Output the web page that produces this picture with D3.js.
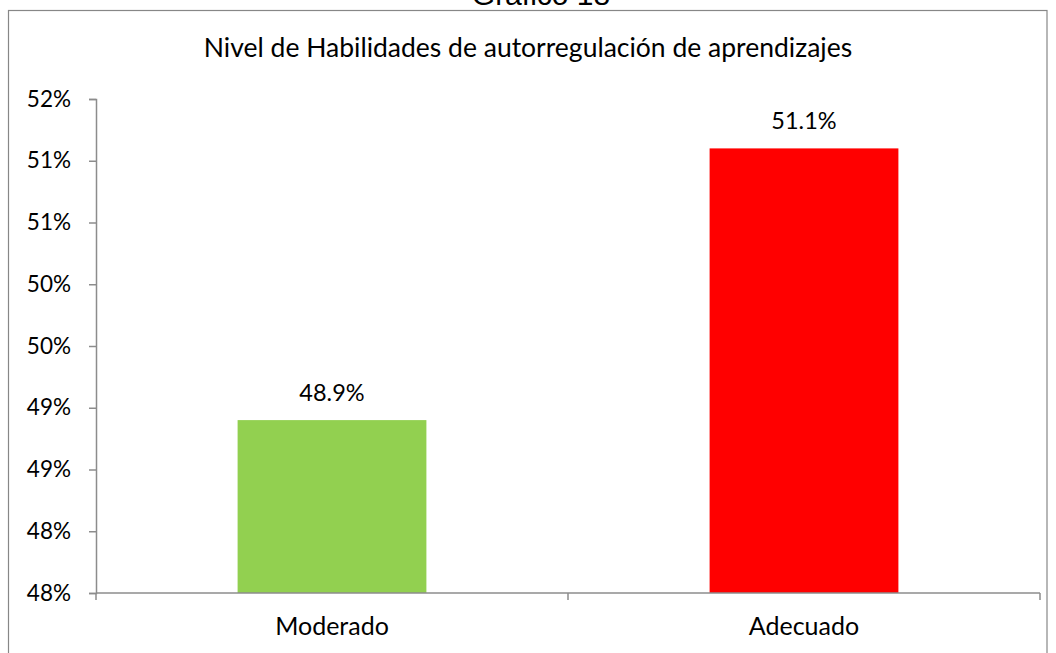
<!DOCTYPE html>
<html>
<head>
<meta charset="utf-8">
<script src="https://cdn.jsdelivr.net/npm/d3@7"></script>
<style>
  html, body { margin: 0; padding: 0; background: #fff; }
  svg { display: block; }
  text { font-family: Lato, "Open Sans", sans-serif; fill: #000; }
</style>
</head>
<body>
<svg id="chart" width="1056" height="653"></svg>
<script>
const categories = ["Moderado", "Adecuado"];
const values = [48.9, 51.1];
const colors = ["#92D050", "#FF0000"];
const yTicks = [47.5, 48.0, 48.5, 49.0, 49.5, 50.0, 50.5, 51.0, 51.5];
const chartTitle = "Nivel de Habilidades de autorregulación de aprendizajes";
const figureTitle = "Gráfico 18";

const svg = d3.select("#chart");
const plot = { left: 96, right: 1040, top: 99, bottom: 593 };

// outer frame
svg.append("rect")
  .attr("x", 8.5).attr("y", 10.5)
  .attr("width", 1047 - 8.5).attr("height", 700)
  .attr("fill", "#fff").attr("stroke", "#878787").attr("stroke-width", 1.2);

// figure title (clipped at top, as in the reference)
svg.append("text")
  .attr("x", 541).attr("y", 5)
  .attr("text-anchor", "middle")
  .style("font-family", "'Liberation Sans', Arial, sans-serif")
  .style("font-size", "30px")
  .text(figureTitle);

const x = d3.scaleBand().domain(categories)
  .range([plot.left, plot.right]).paddingInner(0.6).paddingOuter(0.3);
const y = d3.scaleLinear().domain([47.5, 51.5]).range([plot.bottom, plot.top]);

// chart title
svg.append("text")
  .attr("x", 528).attr("y", 57)
  .attr("text-anchor", "middle")
  .style("font-size", "26.5px")
  .text(chartTitle);

// bars
svg.selectAll("rect.bar").data(values).join("rect")
  .attr("class", "bar")
  .attr("x", (d, i) => x(categories[i]))
  .attr("width", x.bandwidth())
  .attr("y", d => y(d))
  .attr("height", d => y(47.5) - y(d))
  .attr("fill", (d, i) => colors[i]);

// value labels
svg.selectAll("text.val").data(values).join("text")
  .attr("class", "val")
  .attr("x", (d, i) => x(categories[i]) + x.bandwidth() / 2)
  .attr("y", d => y(d) - 19)
  .attr("text-anchor", "middle")
  .style("font-size", "23.5px")
  .text(d => d.toFixed(1) + "%");

// y axis
const yAxis = d3.axisLeft(y).tickValues(yTicks)
  .tickFormat(d => Math.round(d) + "%").tickSize(7).tickPadding(18);
const gy = svg.append("g").attr("transform", `translate(${plot.left},0)`).call(yAxis);
gy.selectAll("path, line").attr("stroke", "#8c8c8c").attr("stroke-width", 1.5);
gy.selectAll("text").style("font-size", "22.5px").style("font-family", "Lato, sans-serif").attr("fill", "#000");

// x axis
const xOuter = d3.scalePoint().domain([0, 1, 2]).range([plot.left, plot.right]);
const gx = svg.append("g").attr("transform", `translate(0,${plot.bottom})`);
gx.append("line").attr("x1", plot.left).attr("x2", plot.right)
  .attr("stroke", "#8c8c8c").attr("stroke-width", 1.5);
gx.selectAll("line.tk").data([0, 1, 2]).join("line")
  .attr("class", "tk")
  .attr("x1", d => xOuter(d)).attr("x2", d => xOuter(d))
  .attr("y1", 0).attr("y2", 7)
  .attr("stroke", "#8c8c8c").attr("stroke-width", 1.5);
gx.selectAll("text").data(categories).join("text")
  .attr("x", d => x(d) + x.bandwidth() / 2)
  .attr("y", 42)
  .attr("text-anchor", "middle")
  .style("font-size", "25px")
  .text(d => d);
</script>
</body>
</html>
